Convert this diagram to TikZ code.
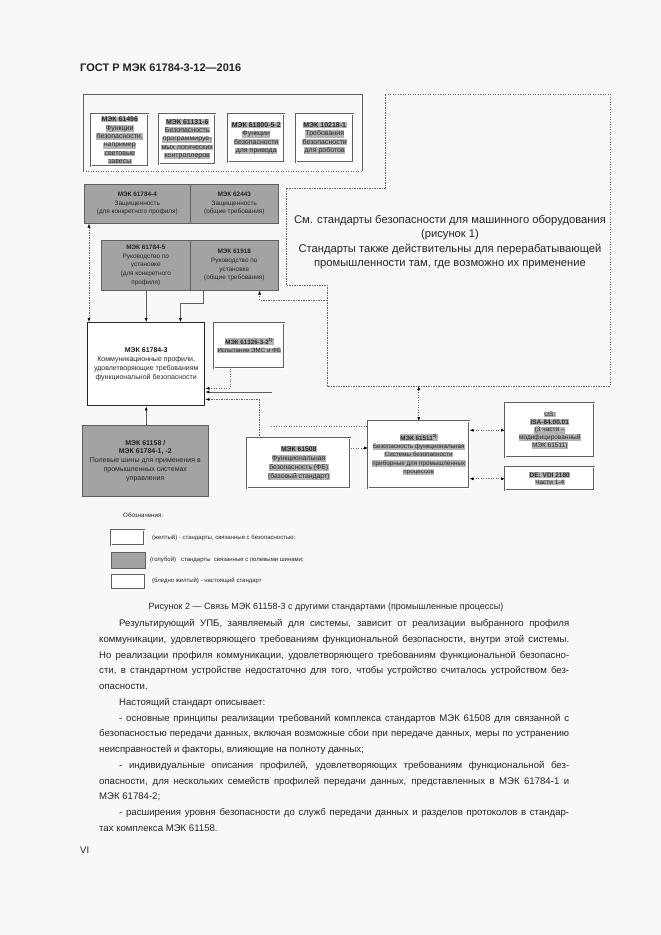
\documentclass[tikz,border=0pt]{standalone}
\usepackage{fontspec}
\setmainfont{Liberation Sans}
\usetikzlibrary{arrows.meta}
\definecolor{pagebg}{RGB}{248,248,248}
\definecolor{boxfill}{RGB}{163,163,163}
\definecolor{edge}{RGB}{95,95,95}
\definecolor{hlgray}{RGB}{180,180,180}
\definecolor{ink}{RGB}{35,35,35}
\newcommand\hlt[1]{{\setlength{\fboxsep}{0.4pt}\colorbox{hlgray}{#1}}}
\newcommand\jline[2]{\makebox[#1][s]{#2}}
\tikzset{
  graybox/.style={draw=edge, fill=boxfill, line width=0.6pt, inner sep=1pt, align=center, anchor=north west, text=ink},
  ybox/.style={draw=edge, double=white, double distance=0.7pt, line width=0.5pt, fill=white, inner sep=1pt, align=center, anchor=north west, text=ink},
  mainbox/.style={draw=black!85, line width=1.4pt, fill=white, inner sep=1pt, align=center, anchor=north west, text=ink},
  conn/.style={draw=edge, line width=0.6pt},
  dconn/.style={draw=edge, line width=0.6pt, dash pattern=on 1.2pt off 1.3pt},
  tip/.style={-{Latex[length=4pt,width=3pt,color=black]}},
  tips/.style={{Latex[length=4pt,width=3pt,color=black]}-{Latex[length=4pt,width=3pt,color=black]}},
  topfs/.style={font=\fontsize{7}{8.3}\selectfont},
  bodyline/.style={anchor=base west, font=\fontsize{9.6}{11}\selectfont, text=ink, inner sep=0pt},
}
\begin{document}
\begin{tikzpicture}[x=1pt,y=-1pt]
\fill[pagebg] (0,0) rectangle (661,935);
\useasboundingbox (0,0) rectangle (661,935);

% header
\node[anchor=base west, font=\fontsize{11}{13}\selectfont\bfseries, text=ink, inner sep=0pt] (hdr) at (80,71) {ГОСТ Р МЭК 61784-3-12—2016};

% top container
\node[anchor=north west, minimum width=279, minimum height=77, inner sep=0pt] (ntop) at (83,94) {};
\draw[conn, line width=0.5pt] (ntop.south west) -- (ntop.north west) -- (ntop.north east) -- (ntop.south east);
\draw[dconn] (ntop.south west) -- (ntop.south east);

\node[ybox, topfs, minimum width=57, minimum height=52] (b1) at (91,114)
  {\hlt{\bfseries МЭК 61496}\\\hlt{Функции}\\\hlt{безопасности,}\\\hlt{например}\\\hlt{световые}\\\hlt{завесы}};
\node[ybox, topfs, minimum width=56, minimum height=50] (b2) at (159,114)
  {\hlt{\bfseries МЭК 61131-6}\\\hlt{Безопасность}\\\hlt{программируе-}\\\hlt{мых логических}\\\hlt{контроллеров}};
\node[ybox, topfs, minimum width=56, minimum height=48] (b3) at (228,114)
  {\hlt{\bfseries МЭК 61800-5-2}\\\hlt{Функции}\\\hlt{безопасности}\\\hlt{для привода}};
\node[ybox, topfs, minimum width=57, minimum height=48] (b4) at (296,114)
  {\hlt{\bfseries МЭК 10218-1}\\\hlt{Требования}\\\hlt{безопасности}\\\hlt{для роботов}};

% dashed region
\coordinate (r1) at (385,94);
\coordinate (r2) at (610,94);
\coordinate (r3) at (610,386);
\coordinate (r4) at (327,386);
\coordinate (r5) at (327,285);
\coordinate (r6) at (286,285);
\coordinate (r7) at (286,188);
\coordinate (r8) at (385,188);
\coordinate (rb) at (327,300);
\draw[dconn] (r1) -- (r2) -- (r3) -- (r4) -- (r5) -- (r6) -- (r7) -- (r8) -- cycle;
\node[align=center, font=\fontsize{11.2}{14.5}\selectfont, text=ink] (see) at (450,242)
  {См. стандарты безопасности для машинного оборудования\\(рисунок 1)\\Стандарты также действительны для перерабатывающей\\промышленности там, где возможно их применение};

% gray boxes
\node[graybox, font=\fontsize{6.4}{8.5}\selectfont, minimum width=106, minimum height=39] (n4) at (84,184)
  {\textbf{МЭК 61784-4}\\Защищенность\\(для конкретного профиля)};
\node[graybox, font=\fontsize{6.4}{8.5}\selectfont, minimum width=88, minimum height=39] (n62) at (190,184)
  {\textbf{МЭК 62443}\\Защищенность\\(общие требования)};
\node[graybox, font=\fontsize{6.4}{8.7}\selectfont, minimum width=89, minimum height=50] (n5) at (101,240)
  {\textbf{МЭК 61784-5}\\Руководство по\\установке\\(для конкретного\\профиля)};
\node[graybox, font=\fontsize{6.4}{8.7}\selectfont, minimum width=88, minimum height=50] (n18) at (190,240)
  {\textbf{МЭК 61918}\\Руководство по\\установке\\(общие требования)};

% main box
\node[mainbox, font=\fontsize{7}{9}\selectfont, minimum width=117, minimum height=83] (n3) at (87,322)
  {\textbf{МЭК 61784-3}\\Коммуникационные профили,\\удовлетворяющие требованиям\\функциональной безопасности};

\node[ybox, font=\fontsize{6.2}{8.5}\selectfont, minimum width=70, minimum height=45] (nE) at (214,323)
  {\hlt{\bfseries МЭК 61326-3-2\textsuperscript{1)}}\\\hlt{Испытание ЭМС и ФБ}};

\node[graybox, font=\fontsize{7}{8.8}\selectfont, minimum width=126, minimum height=71] (n58) at (82,425)
  {\textbf{МЭК 61158 /}\\\textbf{МЭК 61784-1, -2}\\Полевые шины для применения в\\промышленных системах\\управления};

\node[ybox, font=\fontsize{6.8}{9}\selectfont, minimum width=103, minimum height=50] (n08) at (247,438)
  {\hlt{\bfseries МЭК 61508}\\\hlt{Функциональная}\\\hlt{безопасность (ФБ)}\\\hlt{(базовый стандарт)}};

\node[ybox, font=\fontsize{6.3}{8.3}\selectfont, minimum width=101, minimum height=67] (n11) at (368,421)
  {\hlt{\bfseries МЭК 61511\textsuperscript{1)}}\\\hlt{Безопасность функциональная}\\\hlt{Системы безопасности}\\\hlt{приборные для промышленных}\\\hlt{процессов}};

\node[ybox, font=\fontsize{6.5}{7.7}\selectfont, minimum width=89, minimum height=54] (nUS) at (505,403)
  {\hlt{US:}\\\hlt{\bfseries ISA-84.00.01}\\\hlt{(3 части –}\\\hlt{модифицированный}\\\hlt{МЭК 61511)}};
\node[ybox, font=\fontsize{6.5}{7.7}\selectfont, minimum width=89, minimum height=23] (nDE) at (505,467)
  {\hlt{\bfseries DE: VDI 2180}\\\hlt{Части 1-4}};

% connectors
\draw[dconn, tips] ([xshift=5pt]n4.south west) -- ([xshift=5pt]n4.south west |- n3.north);
\draw[conn, tip] (n5.south -| n3.north) -- (n3.north);
\draw[conn, tip] ([xshift=13pt]n18.south west) -- ++(0,13) -| ([xshift=-25pt]n3.north east);
\draw[dconn, tip] (rb) -| ([xshift=-19pt]n18.south east);
\draw[dconn, tip] ([xshift=16pt]nE.south west) |- ([yshift=18pt]n3.south east);
\coordinate (j1) at (272,392);
\draw[conn, tip] (j1) -- (j1 -| n3.east);
\draw[dconn, tip] ([xshift=12pt]n08.north west) |- ([yshift=7pt]n3.south east);
\coordinate (j2) at (271,426);
\draw[dconn] (j2) -- (j2 -| n11.west);
\draw[dconn, tip] ([yshift=-10pt]n08.north east) -- ([yshift=-10pt]n08.north east -| n11.west);
\draw[dconn, tips] (n11.north |- r4) -- (n11.north);
\draw[dconn, tips] (n11.east |- nUS.west) -- (nUS.west);
\draw[dconn, tips] (n11.east |- nDE.west) -- (nDE.west);
\draw[conn, tip] (n58.north -| n3.south) -- (n3.south);

% legend
\node[anchor=west, font=\fontsize{6.2}{7}\selectfont, text=ink, inner sep=0pt] (legt) at (123,515) {Обозначения:};
\node[ybox, minimum width=33, minimum height=15] (lg1) at (111,530) {};
\node[graybox, minimum width=34, minimum height=16] (lg2) at (111,552) {};
\node[anchor=north west, draw=edge, line width=0.5pt, fill=white, minimum width=33, minimum height=14, inner sep=0pt] (lg3) at (111,574) {};
\node[anchor=west, font=\fontsize{6}{7}\selectfont, text=ink, inner sep=0pt] (lgt1) at (152,538) {(желтый) - стандарты, связанные с безопасностью;};
\node[anchor=west, font=\fontsize{6}{7}\selectfont, text=ink, inner sep=0pt] (lgt2) at (150,560) {(голубой) \ \ стандарты \ связанные с полевыми шинами;};
\node[anchor=west, font=\fontsize{6}{7}\selectfont, text=ink, inner sep=0pt] (lgt3) at (152,581) {(бледно желтый) - настоящий стандарт};

% caption
\node[anchor=base, font=\fontsize{9}{11}\selectfont, text=ink, inner sep=0pt] (cap) at (326,609) {Рисунок 2 — Связь МЭК 61158-3 с другими стандартами (промышленные процессы)};

% body text
\node[bodyline] (t1) at (119,626.5) {\jline{450pt}{Результирующий УПБ, заявляемый для системы, зависит от реализации выбранного профиля}};
\node[bodyline] (t2) at (99,642.25) {\jline{470pt}{коммуникации, удовлетворяющего требованиям функциональной безопасности, внутри этой системы.}};
\node[bodyline] (t3) at (99,658) {\jline{470pt}{Но реализации профиля коммуникации, удовлетворяющего требованиям функциональной безопасно-}};
\node[bodyline] (t4) at (99,673.75) {\jline{470pt}{сти, в стандартном устройстве недостаточно для того, чтобы устройство считалось устройством без-}};
\node[bodyline] (t5) at (99,689.5) {опасности.};
\node[bodyline] (t6) at (119,705.25) {Настоящий стандарт описывает:};
\node[bodyline] (t7) at (119,721) {\jline{450pt}{- основные принципы реализации требований комплекса стандартов МЭК 61508 для связанной с}};
\node[bodyline] (t8) at (99,736.75) {\jline{470pt}{безопасностью передачи данных, включая возможные сбои при передаче данных, меры по устранению}};
\node[bodyline] (t9) at (99,752.5) {неисправностей и факторы, влияющие на полноту данных;};
\node[bodyline] (t10) at (119,768.25) {\jline{450pt}{- индивидуальные описания профилей, удовлетворяющих требованиям функциональной без-}};
\node[bodyline] (t11) at (99,784) {\jline{470pt}{опасности, для нескольких семейств профилей передачи данных, представленных в МЭК 61784-1 и}};
\node[bodyline] (t12) at (99,799.75) {МЭК 61784-2;};
\node[bodyline] (t13) at (119,815.5) {\jline{450pt}{- расширения уровня безопасности до служб передачи данных и разделов протоколов в стандар-}};
\node[bodyline] (t14) at (99,831.25) {тах комплекса МЭК 61158.};

% page number
\node[anchor=base west, font=\fontsize{9.5}{11}\selectfont, text=ink, inner sep=0pt] (pg) at (80,853) {VI};
\end{tikzpicture}
\end{document}
